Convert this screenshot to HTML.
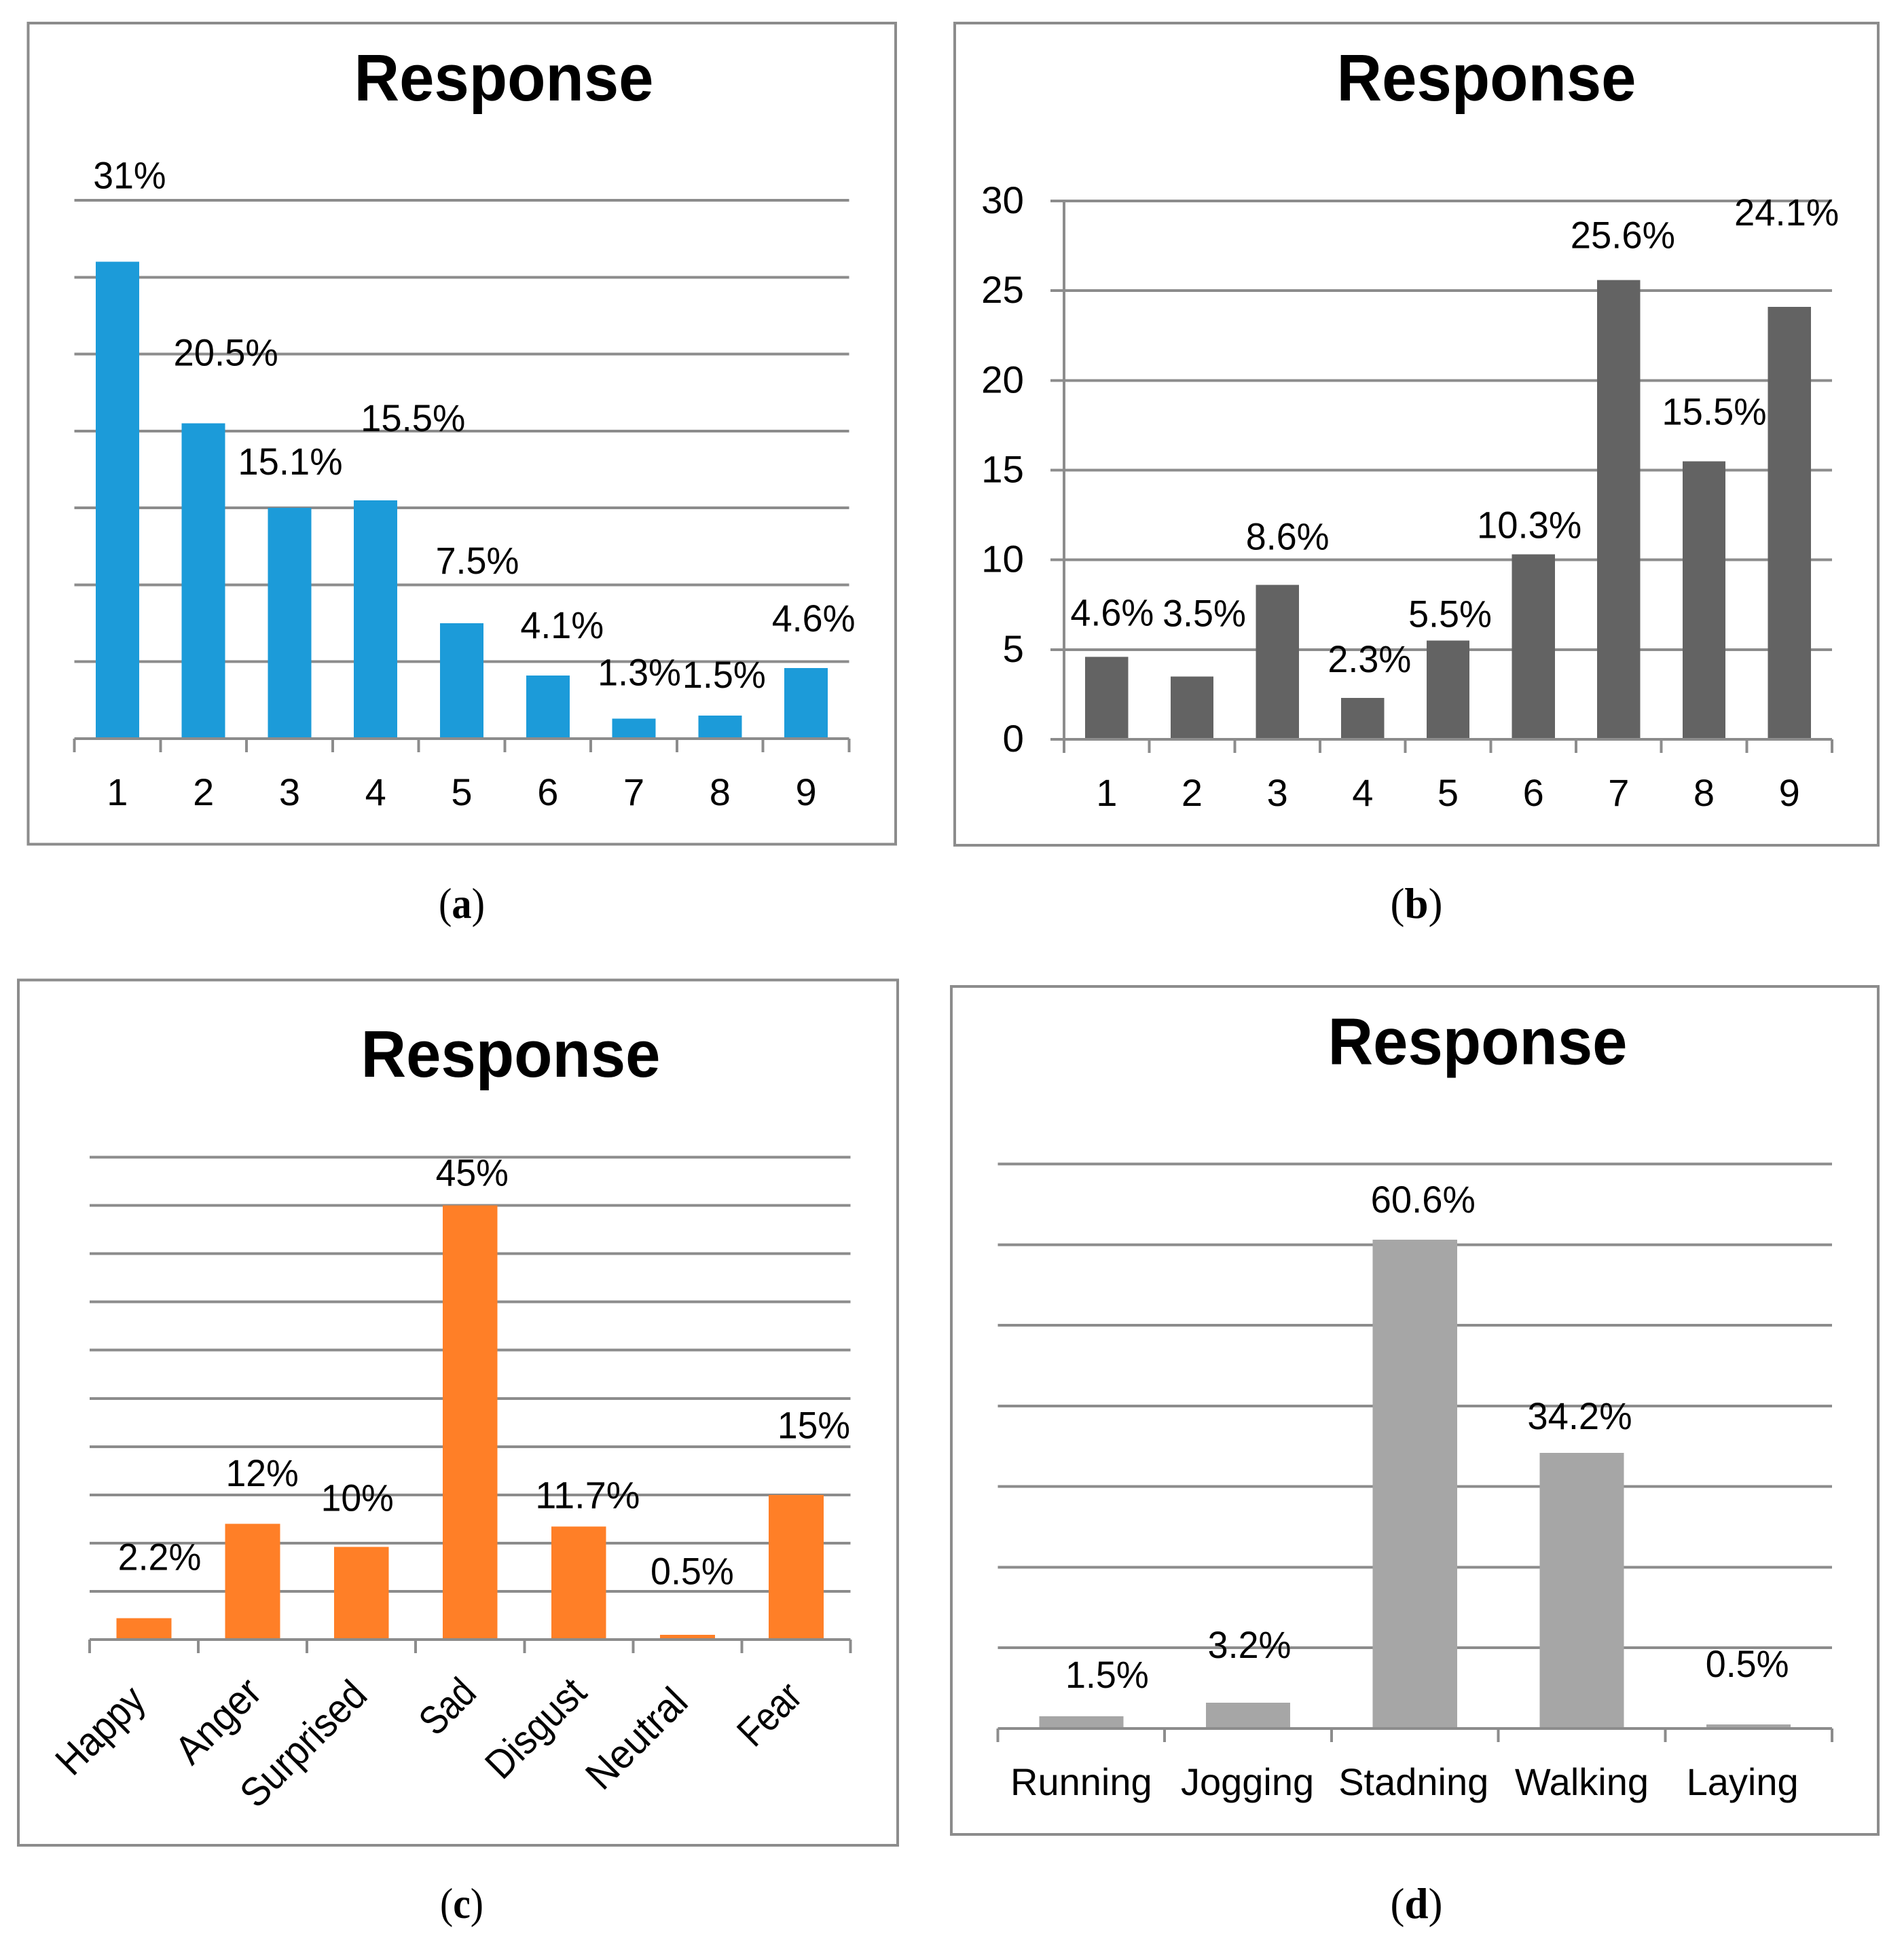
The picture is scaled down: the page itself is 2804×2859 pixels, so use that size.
<!DOCTYPE html>
<html lang="en">
<head>
<meta charset="utf-8">
<title>Response charts</title>
<style>
html,body{margin:0;padding:0;background:#fff}
svg{display:block}
text{font-family:"Liberation Sans",sans-serif;fill:#000}
.title{font-size:97px;font-weight:700;text-anchor:middle}
.caption{font-family:"Liberation Serif",serif;font-size:64px;text-anchor:middle}
.caption tspan{font-weight:700}
.num{font-size:56px;text-anchor:middle}
.rot{font-size:60px;text-anchor:middle}
</style>
</head>
<body>
<svg id="figure" xmlns="http://www.w3.org/2000/svg" width="2804" height="2859" viewBox="0 0 2804 2859">
  <rect x="0" y="0" width="2804" height="2859" fill="#fff"/>
  <g id="panel-a">
    <rect x="41.5" y="34" width="1277.5" height="1209.5" fill="#fff" stroke="#8c8c8c" stroke-width="4"/>
    <text class="title" x="742" y="148" textLength="441" lengthAdjust="spacingAndGlyphs">Response</text>
  </g>
  <g id="panel-b">
    <rect x="1406" y="34" width="1360" height="1211" fill="#fff" stroke="#8c8c8c" stroke-width="4"/>
    <text class="title" x="2189" y="148" textLength="441" lengthAdjust="spacingAndGlyphs">Response</text>
  </g>
  <g id="panel-c">
    <rect x="27" y="1443.5" width="1295" height="1274.5" fill="#fff" stroke="#8c8c8c" stroke-width="4"/>
    <text class="title" x="752" y="1586" textLength="441" lengthAdjust="spacingAndGlyphs">Response</text>
  </g>
  <g id="panel-d">
    <rect x="1401" y="1453" width="1365" height="1249" fill="#fff" stroke="#8c8c8c" stroke-width="4"/>
    <text class="title" x="2176" y="1567.5" textLength="441" lengthAdjust="spacingAndGlyphs">Response</text>
  </g>
  <text class="caption" x="680" y="1352" textLength="68" lengthAdjust="spacingAndGlyphs">(<tspan>a</tspan>)</text>
  <text class="caption" x="2086" y="1352" textLength="77" lengthAdjust="spacingAndGlyphs">(<tspan>b</tspan>)</text>
  <text class="caption" x="680" y="2825" textLength="64" lengthAdjust="spacingAndGlyphs">(<tspan>c</tspan>)</text>
  <text class="caption" x="2086" y="2825" textLength="77" lengthAdjust="spacingAndGlyphs">(<tspan>d</tspan>)</text>
</svg>
<script>
// ---- Chart data ----
const panelACategories = ['1','2','3','4','5','6','7','8','9'];
const panelAValues = [31, 20.5, 15, 15.5, 7.5, 4.1, 1.3, 1.5, 4.6];
const panelALabels = ['31%','20.5%','15.1%','15.5%','7.5%','4.1%','1.3%','1.5%','4.6%'];
const panelATicks = [0, 5, 10, 15, 20, 25, 30, 35];

const panelBCategories = ['1','2','3','4','5','6','7','8','9'];
const panelBValues = [4.6, 3.5, 8.6, 2.3, 5.5, 10.3, 25.6, 15.5, 24.1];
const panelBLabels = ['4.6%','3.5%','8.6%','2.3%','5.5%','10.3%','25.6%','15.5%','24.1%'];
const panelBTicks = [0, 5, 10, 15, 20, 25, 30];
const panelBTickLabels = ['0','5','10','15','20','25','30'];

const panelCCategories = ['Happy','Anger','Surprised','Sad','Disgust','Neutral','Fear'];
const panelCValues = [2.2, 12, 9.6, 45, 11.7, 0.5, 15];
const panelCLabels = ['2.2%','12%','10%','45%','11.7%','0.5%','15%'];
const panelCTicks = [0, 5, 10, 15, 20, 25, 30, 35, 40, 45, 50];

const panelDCategories = ['Running','Jogging','Stadning','Walking','Laying'];
const panelDValues = [1.5, 3.2, 60.6, 34.2, 0.5];
const panelDLabels = ['1.5%','3.2%','60.6%','34.2%','0.5%'];
const panelDTicks = [0, 10, 20, 30, 40, 50, 60, 70];

// ---- Drawing ----
const NS = 'http://www.w3.org/2000/svg';
const AXIS_COLOR = '#8c8c8c';

function make(tag, attrs, parent) {
  const node = document.createElementNS(NS, tag);
  for (const key in attrs) node.setAttribute(key, attrs[key]);
  parent.appendChild(node);
  return node;
}

// Rendered width of a numeric label in the figure's narrow face.
function labelWidth(str) {
  let units = 0;
  for (const ch of str) units += ch === '%' ? 0.715 : ch === '.' ? 0.252 : 0.507;
  return units * 62;
}

function drawPanel(id, cfg) {
  const root = document.getElementById(id);
  const n = cfg.categories.length;
  const step = (cfg.right - cfg.left) / n;
  const maxValue = cfg.ticks[cfg.ticks.length - 1];
  const xCenter = i => cfg.left + step * (i + 0.5);
  const yScale = v => cfg.base - (v / maxValue) * (cfg.base - cfg.top);

  cfg.ticks.forEach((t, i) => {
    const grid = make('line', {
      x1: cfg.left - (cfg.yAxis ? 20 : 0), x2: cfg.right, y1: yScale(t), y2: yScale(t),
      stroke: AXIS_COLOR, 'stroke-width': 4, 'shape-rendering': 'crispEdges'
    }, root);
    
    
    if (cfg.tickLabels) {
      const label = make('text', { class: 'num', x: cfg.left - 59, y: yScale(t) + 18, style: 'text-anchor:end' }, root);
      
      
      label.setAttribute('textLength', labelWidth(cfg.tickLabels[i]));
      label.setAttribute('lengthAdjust', 'spacingAndGlyphs');
      label.textContent = cfg.tickLabels[i];
    }
  });

  if (cfg.yAxis) {
    const axis = make('line', {
      x1: cfg.left, x2: cfg.left, y1: cfg.top - 2, y2: cfg.base,
      stroke: AXIS_COLOR, 'stroke-width': 4, 'shape-rendering': 'crispEdges'
    }, root);
    
    
  }

  for (let i = 0; i <= n; i++) {
    const tx = cfg.left + step * i;
    const tick = make('line', {
      x1: tx, x2: tx, y1: cfg.base, y2: cfg.base + 20,
      stroke: AXIS_COLOR, 'stroke-width': 4, 'shape-rendering': 'crispEdges'
    }, root);
    
    
  }

  cfg.values.forEach((v, i) => {
    const w = step * 0.505;
    const bar = make('rect', {
      x: xCenter(i) - w / 2, y: yScale(v), width: w, height: Math.max(0, cfg.base - yScale(v) - 2),
      fill: cfg.color, 'shape-rendering': 'crispEdges'
    }, root);
    
    
  });

  cfg.labels.forEach((txt, i) => {
    const label = make('text', {
      class: 'num', x: xCenter(i) + cfg.nudges[i][0], y: yScale(cfg.values[i]) + cfg.nudges[i][1],
      lengthAdjust: 'spacingAndGlyphs', textLength: labelWidth(txt)
    }, root);
    
    
    label.textContent = txt;
  });

  cfg.categories.forEach((c, i) => {
    const attrs = cfg.rotated
      ? { class: 'rot', x: 0, y: 0, lengthAdjust: 'spacingAndGlyphs', textLength: cfg.rotated[i][2],
          transform: 'translate(' + (xCenter(i) + cfg.rotated[i][0]) + ',' + cfg.rotated[i][1] + ') rotate(-45)' }
      : { class: 'num', x: xCenter(i) + (cfg.catNudges ? cfg.catNudges[i] : 0), y: cfg.catY };
    const cat = make('text', attrs, root);
    
    
    cat.textContent = c;
  });
}

// Manually placed value labels: [dx, dy] relative to the top-centre of each bar.
drawPanel('panel-a', {
  categories: panelACategories, values: panelAValues, labels: panelALabels, ticks: panelATicks,
  left: 109.5, right: 1250.5, top: 295, base: 1088, color: '#1c9bd9', catY: 1186,
  nudges: [[18,-108],[33,-85],[1,-49],[55,-102],[23,-73],[21,-55],[8,-49],[6,-41],[11,-54]]
});
drawPanel('panel-b', {
  categories: panelBCategories, values: panelBValues, labels: panelBLabels, ticks: panelBTicks,
  tickLabels: panelBTickLabels, yAxis: true,
  left: 1567, right: 2698, top: 296, base: 1089, color: '#636363', catY: 1187,
  nudges: [[8,-46],[18,-74],[15,-52],[10,-38],[3,-20],[-6,-24],[6,-47],[15,-54],[-4,-120]]
});
drawPanel('panel-c', {
  categories: panelCCategories, values: panelCValues, labels: panelCLabels, ticks: panelCTicks,
  left: 132, right: 1252.5, top: 1704.5, base: 2415, color: '#ff7f27',
  // rotated category label placement: [dx from tick centre, baseline-mid y, run length]
  rotated: [[-50,2563,156],[-36.5,2549,150],[-71,2583,234],[-19,2528,88],[-49,2560,180],[-60.5,2575,182],[-25,2539,104]],
  nudges: [[23,-71],[14,-55.5],[-6,-53],[3,-29],[13,-27],[7,-74.5],[26,-83.5]]
});
drawPanel('panel-d', {
  categories: panelDCategories, values: panelDValues, labels: panelDLabels, ticks: panelDTicks,
  left: 1469.5, right: 2698, top: 1714.5, base: 2546, color: '#a6a6a6', catY: 2644,
  catNudges: [0, -1, -2, 0, -9],
  nudges: [[38,-42],[2,-66],[12,-40],[-3,-35],[-2,-70]]
});
</script>
</body>
</html>
